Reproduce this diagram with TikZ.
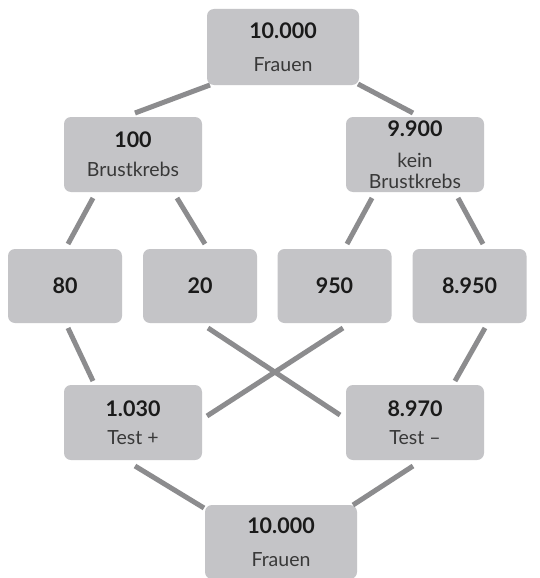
\documentclass[tikz,border=0pt]{standalone}
\usepackage{fontspec}
\setmainfont{Lato}
\definecolor{boxgray}{HTML}{C4C4C7}
\definecolor{linegray}{HTML}{8C8C8E}
\definecolor{numgray}{HTML}{1A1A1A}
\definecolor{txtgray}{HTML}{383838}
\newcommand\zahl[1]{{\bfseries\fontsize{21.5}{21}\selectfont\color{numgray}#1}}
\begin{document}
\begin{tikzpicture}[x=1pt,y=-1pt,
  box/.style={fill=boxgray, rounded corners=7pt, inner sep=0pt, align=center,
    font=\fontsize{19.5}{21}\selectfont, text=txtgray},
  wide/.style={box, minimum width=152pt, minimum height=76pt},
  mid/.style={box, minimum width=138pt, minimum height=75pt},
  small/.style={box, minimum width=114pt, minimum height=74pt},
  conn/.style={draw=linegray, line width=5pt}]
\useasboundingbox (0,0) rectangle (539,578);
\fill[white] (0,0) rectangle (539,578);

\node[wide] (top) at (283,47) {\zahl{10.000}\\[12pt]Frauen};
\node[mid] (bk) at (133,154.5) {\zahl{100}\\[8pt]Brustkrebs};
\node[mid] (kbk) at (415,154.5) {\zahl{9.900}\\[10pt]kein\\Brustkrebs};
\node[small] (n80) at (65,286) {\zahl{80}};
\node[small] (n20) at (200,286) {\zahl{20}};
\node[small] (n950) at (334.5,286) {\zahl{950}};
\node[small] (n8950) at (469.5,286) {\zahl{8.950}};
\node[mid] (tp) at (133,422.5) {\zahl{1.030}\\[7pt]Test +};
\node[mid] (tm) at (415,422.5) {\zahl{8.970}\\[7pt]Test –};
\node[wide, minimum height=74pt] (bot) at (281,542) {\zahl{10.000}\\[12pt]Frauen};

\draw[conn] ([shift={(-73,38)}]top.center) -- ([shift={(2,-41.5)}]bk.center);
\draw[conn] ([shift={(75,37)}]top.center) -- ([shift={(-2,-41.5)}]kbk.center);
\draw[conn] ([shift={(-40,43.5)}]bk.center) -- ([shift={(3,-42)}]n80.center);
\draw[conn] ([shift={(44,43.5)}]bk.center) -- ([shift={(5,-42)}]n20.center);
\draw[conn] ([shift={(-43,43.5)}]kbk.center) -- ([shift={(12.5,-42)}]n950.center);
\draw[conn] ([shift={(43,43.5)}]kbk.center) -- ([shift={(13.5,-42)}]n8950.center);
\draw[conn] ([shift={(3,42)}]n80.center) -- ([shift={(-40,-41.5)}]tp.center);
\draw[conn] ([shift={(8,42)}]n20.center) -- ([shift={(-75,-7.5)}]tm.center);
\draw[conn] ([shift={(8.5,42)}]n950.center) -- ([shift={(74,-6.5)}]tp.center);
\draw[conn] ([shift={(15.5,42)}]n8950.center) -- ([shift={(40,-41.5)}]tm.center);
\draw[conn] ([shift={(2,43.5)}]tp.center) -- ([shift={(-77,-34)}]bot.center);
\draw[conn] ([shift={(-2,43.5)}]tm.center) -- ([shift={(72,-37)}]bot.center);
\end{tikzpicture}
\end{document}
